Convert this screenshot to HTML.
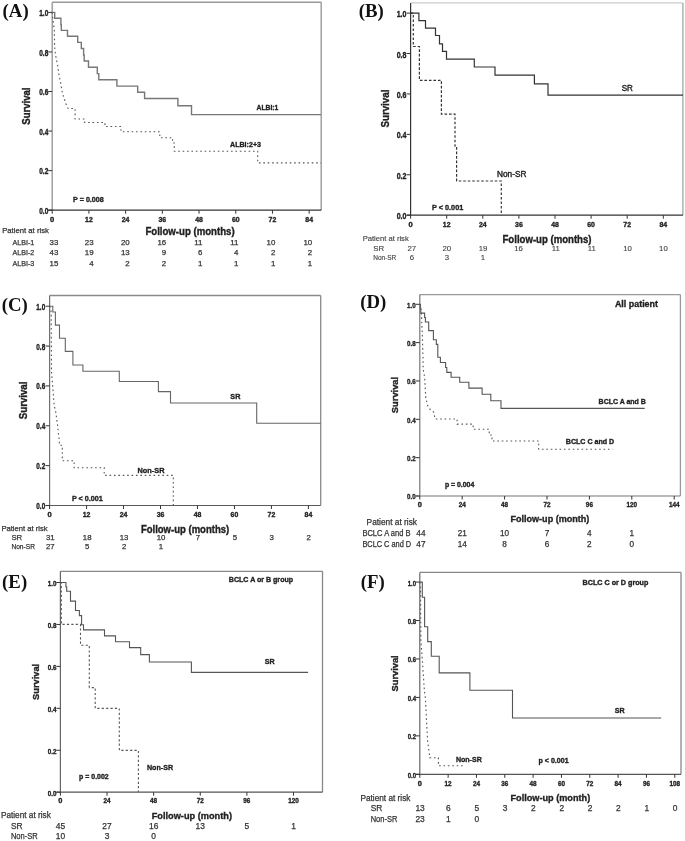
<!DOCTYPE html>
<html><head><meta charset="utf-8"><title>Kaplan-Meier survival curves</title>
<style>
html,body{margin:0;padding:0;background:#fff;}
body{width:685px;height:841px;overflow:hidden;font-family:"Liberation Sans",sans-serif;}
svg{display:block;will-change:transform;}
</style></head>
<body>
<svg width="685" height="841" viewBox="0 0 685 841">
<rect width="685" height="841" fill="#fff"/>
<g>
<line x1="52.2" y1="2.2" x2="321.2" y2="2.2" stroke="#999" stroke-width="1.4"/>
<line x1="321.2" y1="2.2" x2="321.2" y2="210.2" stroke="#999" stroke-width="1.4"/>
<line x1="52.2" y1="2.2" x2="52.2" y2="210.2" stroke="#999" stroke-width="1.4"/>
<line x1="48.2" y1="210.2" x2="321.2" y2="210.2" stroke="#333" stroke-width="1.3"/>
<line x1="48.2" y1="210.2" x2="52.2" y2="210.2" stroke="#333" stroke-width="1.0"/>
<text x="48.3" y="213.9" font-family="'Liberation Sans', sans-serif" font-size="8.4" font-weight="bold" text-anchor="end" fill="#222" textLength="9.1" lengthAdjust="spacingAndGlyphs" stroke="#222" stroke-width="0.35">0.0</text>
<line x1="48.2" y1="170.64" x2="52.2" y2="170.64" stroke="#333" stroke-width="1.0"/>
<text x="48.3" y="174.34" font-family="'Liberation Sans', sans-serif" font-size="8.4" font-weight="bold" text-anchor="end" fill="#222" textLength="9.1" lengthAdjust="spacingAndGlyphs" stroke="#222" stroke-width="0.35">0.2</text>
<line x1="48.2" y1="131.08" x2="52.2" y2="131.08" stroke="#333" stroke-width="1.0"/>
<text x="48.3" y="134.78" font-family="'Liberation Sans', sans-serif" font-size="8.4" font-weight="bold" text-anchor="end" fill="#222" textLength="9.1" lengthAdjust="spacingAndGlyphs" stroke="#222" stroke-width="0.35">0.4</text>
<line x1="48.2" y1="91.52" x2="52.2" y2="91.52" stroke="#333" stroke-width="1.0"/>
<text x="48.3" y="95.22" font-family="'Liberation Sans', sans-serif" font-size="8.4" font-weight="bold" text-anchor="end" fill="#222" textLength="9.1" lengthAdjust="spacingAndGlyphs" stroke="#222" stroke-width="0.35">0.6</text>
<line x1="48.2" y1="51.96" x2="52.2" y2="51.96" stroke="#333" stroke-width="1.0"/>
<text x="48.3" y="55.66" font-family="'Liberation Sans', sans-serif" font-size="8.4" font-weight="bold" text-anchor="end" fill="#222" textLength="9.1" lengthAdjust="spacingAndGlyphs" stroke="#222" stroke-width="0.35">0.8</text>
<line x1="48.2" y1="12.4" x2="52.2" y2="12.4" stroke="#333" stroke-width="1.0"/>
<text x="48.3" y="16.1" font-family="'Liberation Sans', sans-serif" font-size="8.4" font-weight="bold" text-anchor="end" fill="#222" textLength="9.1" lengthAdjust="spacingAndGlyphs" stroke="#222" stroke-width="0.35">1.0</text>
<line x1="52.2" y1="210.2" x2="52.2" y2="213.7" stroke="#333" stroke-width="1.0"/>
<text x="52.2" y="221.7" font-family="'Liberation Sans', sans-serif" font-size="7.6" font-weight="bold" text-anchor="middle" fill="#222" stroke="#222" stroke-width="0.35">0</text>
<line x1="88.91" y1="210.2" x2="88.91" y2="213.7" stroke="#333" stroke-width="1.0"/>
<text x="88.91" y="221.7" font-family="'Liberation Sans', sans-serif" font-size="7.6" font-weight="bold" text-anchor="middle" fill="#222" textLength="7.7" lengthAdjust="spacingAndGlyphs" stroke="#222" stroke-width="0.35">12</text>
<line x1="125.62" y1="210.2" x2="125.62" y2="213.7" stroke="#333" stroke-width="1.0"/>
<text x="125.62" y="221.7" font-family="'Liberation Sans', sans-serif" font-size="7.6" font-weight="bold" text-anchor="middle" fill="#222" textLength="7.7" lengthAdjust="spacingAndGlyphs" stroke="#222" stroke-width="0.35">24</text>
<line x1="162.33" y1="210.2" x2="162.33" y2="213.7" stroke="#333" stroke-width="1.0"/>
<text x="162.33" y="221.7" font-family="'Liberation Sans', sans-serif" font-size="7.6" font-weight="bold" text-anchor="middle" fill="#222" textLength="7.7" lengthAdjust="spacingAndGlyphs" stroke="#222" stroke-width="0.35">36</text>
<line x1="199.04" y1="210.2" x2="199.04" y2="213.7" stroke="#333" stroke-width="1.0"/>
<text x="199.04" y="221.7" font-family="'Liberation Sans', sans-serif" font-size="7.6" font-weight="bold" text-anchor="middle" fill="#222" textLength="7.7" lengthAdjust="spacingAndGlyphs" stroke="#222" stroke-width="0.35">48</text>
<line x1="235.75" y1="210.2" x2="235.75" y2="213.7" stroke="#333" stroke-width="1.0"/>
<text x="235.75" y="221.7" font-family="'Liberation Sans', sans-serif" font-size="7.6" font-weight="bold" text-anchor="middle" fill="#222" textLength="7.7" lengthAdjust="spacingAndGlyphs" stroke="#222" stroke-width="0.35">60</text>
<line x1="272.46" y1="210.2" x2="272.46" y2="213.7" stroke="#333" stroke-width="1.0"/>
<text x="272.46" y="221.7" font-family="'Liberation Sans', sans-serif" font-size="7.6" font-weight="bold" text-anchor="middle" fill="#222" textLength="7.7" lengthAdjust="spacingAndGlyphs" stroke="#222" stroke-width="0.35">72</text>
<line x1="309.17" y1="210.2" x2="309.17" y2="213.7" stroke="#333" stroke-width="1.0"/>
<text x="309.17" y="221.7" font-family="'Liberation Sans', sans-serif" font-size="7.6" font-weight="bold" text-anchor="middle" fill="#222" textLength="7.7" lengthAdjust="spacingAndGlyphs" stroke="#222" stroke-width="0.35">84</text>
<path d="M52.2 12.4 H54.7 V18.2 H60.9 V24.6 H61.3 V30.4 H67.5 V36.3 H77.7 V42.4 H81.3 V48.5 H83.6 V55 H84.2 V61 H88.5 V67.2 H97.3 V73.6 H98.8 V79.8 H116.9 V86.1 H137.7 V92.3 H144.6 V98.5 H177.9 V105.8 H191.5 V114.6 H321" fill="none" stroke="#777" stroke-width="1.4" stroke-linejoin="miter"/>
<path d="M52.2 12.4 L52.6 16.6 L53.5 24 L54.3 29.4 L54.6 46.6 L55.5 55 L56.5 60 L57.6 65 L59 75 L60.5 82 L62.3 92.7 L64 98 L66 104 L68.1 108.5 H75.1 V119 H84.7 V122.5 H104.9 V126.5 H121 V131.8 H159.8 V137.7 H172.6 V143 H174.3 V151.2 H257.7 V162.9 H321" fill="none" stroke="#555" stroke-width="1.1" stroke-dasharray="1.6 2.8" stroke-linejoin="miter"/>
<text x="2.6" y="17.1" font-family="'Liberation Serif', serif" font-size="18.8" font-weight="bold" text-anchor="start" fill="#111">(A)</text>
<text x="29.9" y="106.1" font-family="'Liberation Sans', sans-serif" font-size="10.2" font-weight="bold" text-anchor="middle" fill="#222" textLength="37.3" lengthAdjust="spacingAndGlyphs" transform="rotate(-90 29.9 106.1)" stroke="#222" stroke-width="0.35">Survival</text>
<text x="145.4" y="234.8" font-family="'Liberation Sans', sans-serif" font-size="10.2" font-weight="bold" text-anchor="start" fill="#222" textLength="89.2" lengthAdjust="spacingAndGlyphs" stroke="#222" stroke-width="0.35">Follow-up (months)</text>
<text x="73.1" y="202.3" font-family="'Liberation Sans', sans-serif" font-size="7.7" font-weight="bold" text-anchor="start" fill="#222" textLength="30.7" lengthAdjust="spacingAndGlyphs" stroke="#222" stroke-width="0.35">P = 0.008</text>
<text x="256.5" y="110" font-family="'Liberation Sans', sans-serif" font-size="8.0" font-weight="bold" text-anchor="start" fill="#222" textLength="21.9" lengthAdjust="spacingAndGlyphs" stroke="#222" stroke-width="0.35">ALBI:1</text>
<text x="230" y="146.5" font-family="'Liberation Sans', sans-serif" font-size="8.0" font-weight="bold" text-anchor="start" fill="#222" textLength="31" lengthAdjust="spacingAndGlyphs" stroke="#222" stroke-width="0.35">ALBI:2+3</text>
<text x="2.2" y="233.4" font-family="'Liberation Sans', sans-serif" font-size="7.9" text-anchor="start" fill="#333" textLength="46.7" lengthAdjust="spacingAndGlyphs" stroke="#333" stroke-width="0.25">Patient at risk</text>
<text x="12.4" y="244.5" font-family="'Liberation Sans', sans-serif" font-size="7.9" text-anchor="start" fill="#333" textLength="21.9" lengthAdjust="spacingAndGlyphs" stroke="#333" stroke-width="0.25">ALBI-1</text>
<text x="12.4" y="255.0" font-family="'Liberation Sans', sans-serif" font-size="7.9" text-anchor="start" fill="#333" textLength="21.9" lengthAdjust="spacingAndGlyphs" stroke="#333" stroke-width="0.25">ALBI-2</text>
<text x="12.4" y="266.4" font-family="'Liberation Sans', sans-serif" font-size="7.9" text-anchor="start" fill="#333" textLength="21.9" lengthAdjust="spacingAndGlyphs" stroke="#333" stroke-width="0.25">ALBI-3</text>
<text x="58.4" y="244.5" font-family="'Liberation Sans', sans-serif" font-size="7.9" text-anchor="end" fill="#333" stroke="#333" stroke-width="0.25">33</text>
<text x="93.6" y="244.5" font-family="'Liberation Sans', sans-serif" font-size="7.9" text-anchor="end" fill="#333" stroke="#333" stroke-width="0.25">23</text>
<text x="129.7" y="244.5" font-family="'Liberation Sans', sans-serif" font-size="7.9" text-anchor="end" fill="#333" stroke="#333" stroke-width="0.25">20</text>
<text x="166.2" y="244.5" font-family="'Liberation Sans', sans-serif" font-size="7.9" text-anchor="end" fill="#333" stroke="#333" stroke-width="0.25">16</text>
<text x="202.4" y="244.5" font-family="'Liberation Sans', sans-serif" font-size="7.9" text-anchor="end" fill="#333" stroke="#333" stroke-width="0.25">11</text>
<text x="238.5" y="244.5" font-family="'Liberation Sans', sans-serif" font-size="7.9" text-anchor="end" fill="#333" stroke="#333" stroke-width="0.25">11</text>
<text x="275.3" y="244.5" font-family="'Liberation Sans', sans-serif" font-size="7.9" text-anchor="end" fill="#333" stroke="#333" stroke-width="0.25">10</text>
<text x="312.2" y="244.5" font-family="'Liberation Sans', sans-serif" font-size="7.9" text-anchor="end" fill="#333" stroke="#333" stroke-width="0.25">10</text>
<text x="58.4" y="255.0" font-family="'Liberation Sans', sans-serif" font-size="7.9" text-anchor="end" fill="#333" stroke="#333" stroke-width="0.25">43</text>
<text x="93.6" y="255.0" font-family="'Liberation Sans', sans-serif" font-size="7.9" text-anchor="end" fill="#333" stroke="#333" stroke-width="0.25">19</text>
<text x="129.7" y="255.0" font-family="'Liberation Sans', sans-serif" font-size="7.9" text-anchor="end" fill="#333" stroke="#333" stroke-width="0.25">13</text>
<text x="166.2" y="255.0" font-family="'Liberation Sans', sans-serif" font-size="7.9" text-anchor="end" fill="#333" stroke="#333" stroke-width="0.25">9</text>
<text x="202.4" y="255.0" font-family="'Liberation Sans', sans-serif" font-size="7.9" text-anchor="end" fill="#333" stroke="#333" stroke-width="0.25">6</text>
<text x="238.5" y="255.0" font-family="'Liberation Sans', sans-serif" font-size="7.9" text-anchor="end" fill="#333" stroke="#333" stroke-width="0.25">4</text>
<text x="275.3" y="255.0" font-family="'Liberation Sans', sans-serif" font-size="7.9" text-anchor="end" fill="#333" stroke="#333" stroke-width="0.25">2</text>
<text x="312.2" y="255.0" font-family="'Liberation Sans', sans-serif" font-size="7.9" text-anchor="end" fill="#333" stroke="#333" stroke-width="0.25">2</text>
<text x="58.4" y="266.4" font-family="'Liberation Sans', sans-serif" font-size="7.9" text-anchor="end" fill="#333" stroke="#333" stroke-width="0.25">15</text>
<text x="93.6" y="266.4" font-family="'Liberation Sans', sans-serif" font-size="7.9" text-anchor="end" fill="#333" stroke="#333" stroke-width="0.25">4</text>
<text x="129.7" y="266.4" font-family="'Liberation Sans', sans-serif" font-size="7.9" text-anchor="end" fill="#333" stroke="#333" stroke-width="0.25">2</text>
<text x="166.2" y="266.4" font-family="'Liberation Sans', sans-serif" font-size="7.9" text-anchor="end" fill="#333" stroke="#333" stroke-width="0.25">2</text>
<text x="202.4" y="266.4" font-family="'Liberation Sans', sans-serif" font-size="7.9" text-anchor="end" fill="#333" stroke="#333" stroke-width="0.25">1</text>
<text x="238.5" y="266.4" font-family="'Liberation Sans', sans-serif" font-size="7.9" text-anchor="end" fill="#333" stroke="#333" stroke-width="0.25">1</text>
<text x="275.3" y="266.4" font-family="'Liberation Sans', sans-serif" font-size="7.9" text-anchor="end" fill="#333" stroke="#333" stroke-width="0.25">1</text>
<text x="312.2" y="266.4" font-family="'Liberation Sans', sans-serif" font-size="7.9" text-anchor="end" fill="#333" stroke="#333" stroke-width="0.25">1</text>
</g>
<g>
<line x1="410.6" y1="2.9" x2="682.9" y2="2.9" stroke="#cbcbcb" stroke-width="1.3"/>
<line x1="682.9" y1="2.9" x2="682.9" y2="215.2" stroke="#a5a5a5" stroke-width="1.3"/>
<line x1="410.6" y1="2.9" x2="410.6" y2="215.2" stroke="#333" stroke-width="1.2"/>
<line x1="406.6" y1="215.2" x2="682.9" y2="215.2" stroke="#333" stroke-width="1.2"/>
<line x1="406.6" y1="215.2" x2="410.6" y2="215.2" stroke="#333" stroke-width="1.0"/>
<text x="406.5" y="219.2" font-family="'Liberation Sans', sans-serif" font-size="8.7" font-weight="bold" text-anchor="end" fill="#222" textLength="9.8" lengthAdjust="spacingAndGlyphs" stroke="#222" stroke-width="0.35">0.0</text>
<line x1="406.6" y1="174.78" x2="410.6" y2="174.78" stroke="#333" stroke-width="1.0"/>
<text x="406.5" y="178.78" font-family="'Liberation Sans', sans-serif" font-size="8.7" font-weight="bold" text-anchor="end" fill="#222" textLength="9.8" lengthAdjust="spacingAndGlyphs" stroke="#222" stroke-width="0.35">0.2</text>
<line x1="406.6" y1="134.36" x2="410.6" y2="134.36" stroke="#333" stroke-width="1.0"/>
<text x="406.5" y="138.36" font-family="'Liberation Sans', sans-serif" font-size="8.7" font-weight="bold" text-anchor="end" fill="#222" textLength="9.8" lengthAdjust="spacingAndGlyphs" stroke="#222" stroke-width="0.35">0.4</text>
<line x1="406.6" y1="93.94" x2="410.6" y2="93.94" stroke="#333" stroke-width="1.0"/>
<text x="406.5" y="97.94" font-family="'Liberation Sans', sans-serif" font-size="8.7" font-weight="bold" text-anchor="end" fill="#222" textLength="9.8" lengthAdjust="spacingAndGlyphs" stroke="#222" stroke-width="0.35">0.6</text>
<line x1="406.6" y1="53.52" x2="410.6" y2="53.52" stroke="#333" stroke-width="1.0"/>
<text x="406.5" y="57.52" font-family="'Liberation Sans', sans-serif" font-size="8.7" font-weight="bold" text-anchor="end" fill="#222" textLength="9.8" lengthAdjust="spacingAndGlyphs" stroke="#222" stroke-width="0.35">0.8</text>
<line x1="406.6" y1="13.1" x2="410.6" y2="13.1" stroke="#333" stroke-width="1.0"/>
<text x="406.5" y="17.1" font-family="'Liberation Sans', sans-serif" font-size="8.7" font-weight="bold" text-anchor="end" fill="#222" textLength="9.8" lengthAdjust="spacingAndGlyphs" stroke="#222" stroke-width="0.35">1.0</text>
<line x1="410.6" y1="215.2" x2="410.6" y2="218.7" stroke="#333" stroke-width="1.0"/>
<text x="410.6" y="226.8" font-family="'Liberation Sans', sans-serif" font-size="7.6" font-weight="bold" text-anchor="middle" fill="#222" stroke="#222" stroke-width="0.35">0</text>
<line x1="446.7" y1="215.2" x2="446.7" y2="218.7" stroke="#333" stroke-width="1.0"/>
<text x="446.7" y="226.8" font-family="'Liberation Sans', sans-serif" font-size="7.6" font-weight="bold" text-anchor="middle" fill="#222" textLength="7.7" lengthAdjust="spacingAndGlyphs" stroke="#222" stroke-width="0.35">12</text>
<line x1="482.8" y1="215.2" x2="482.8" y2="218.7" stroke="#333" stroke-width="1.0"/>
<text x="482.8" y="226.8" font-family="'Liberation Sans', sans-serif" font-size="7.6" font-weight="bold" text-anchor="middle" fill="#222" textLength="7.7" lengthAdjust="spacingAndGlyphs" stroke="#222" stroke-width="0.35">24</text>
<line x1="518.9" y1="215.2" x2="518.9" y2="218.7" stroke="#333" stroke-width="1.0"/>
<text x="518.9" y="226.8" font-family="'Liberation Sans', sans-serif" font-size="7.6" font-weight="bold" text-anchor="middle" fill="#222" textLength="7.7" lengthAdjust="spacingAndGlyphs" stroke="#222" stroke-width="0.35">36</text>
<line x1="555.0" y1="215.2" x2="555.0" y2="218.7" stroke="#333" stroke-width="1.0"/>
<text x="555.0" y="226.8" font-family="'Liberation Sans', sans-serif" font-size="7.6" font-weight="bold" text-anchor="middle" fill="#222" textLength="7.7" lengthAdjust="spacingAndGlyphs" stroke="#222" stroke-width="0.35">48</text>
<line x1="591.1" y1="215.2" x2="591.1" y2="218.7" stroke="#333" stroke-width="1.0"/>
<text x="591.1" y="226.8" font-family="'Liberation Sans', sans-serif" font-size="7.6" font-weight="bold" text-anchor="middle" fill="#222" textLength="7.7" lengthAdjust="spacingAndGlyphs" stroke="#222" stroke-width="0.35">60</text>
<line x1="627.2" y1="215.2" x2="627.2" y2="218.7" stroke="#333" stroke-width="1.0"/>
<text x="627.2" y="226.8" font-family="'Liberation Sans', sans-serif" font-size="7.6" font-weight="bold" text-anchor="middle" fill="#222" textLength="7.7" lengthAdjust="spacingAndGlyphs" stroke="#222" stroke-width="0.35">72</text>
<line x1="663.3" y1="215.2" x2="663.3" y2="218.7" stroke="#333" stroke-width="1.0"/>
<text x="663.3" y="226.8" font-family="'Liberation Sans', sans-serif" font-size="7.6" font-weight="bold" text-anchor="middle" fill="#222" textLength="7.7" lengthAdjust="spacingAndGlyphs" stroke="#222" stroke-width="0.35">84</text>
<path d="M410.6 13.1 H418.9 V20.6 H425.5 V28.1 H435.5 V35.5 H439.5 V43.9 H442.5 V51.4 H446.5 V59.2 H474.3 V67 H495 V75.2 H534.4 V83.8 H548 V95.1 H683" fill="none" stroke="#333" stroke-width="1.2" stroke-linejoin="miter"/>
<path d="M410.6 13.1 H413.3 V46.5 H419.4 V80.3 H441.4 V114.2 H455 V147.6 H456.6 V181 H501.3 V215.2" fill="none" stroke="#333" stroke-width="1.2" stroke-dasharray="2.6 1.9" stroke-linejoin="miter"/>
<text x="358.8" y="16.9" font-family="'Liberation Serif', serif" font-size="18.8" font-weight="bold" text-anchor="start" fill="#111">(B)</text>
<text x="388.7" y="108.6" font-family="'Liberation Sans', sans-serif" font-size="10.2" font-weight="bold" text-anchor="middle" fill="#222" textLength="37.9" lengthAdjust="spacingAndGlyphs" transform="rotate(-90 388.7 108.6)" stroke="#222" stroke-width="0.35">Survival</text>
<text x="502.5" y="242.7" font-family="'Liberation Sans', sans-serif" font-size="10.2" font-weight="bold" text-anchor="start" fill="#222" textLength="89" lengthAdjust="spacingAndGlyphs" stroke="#222" stroke-width="0.35">Follow-up (months)</text>
<text x="432" y="210.3" font-family="'Liberation Sans', sans-serif" font-size="7.8" font-weight="bold" text-anchor="start" fill="#222" textLength="31.3" lengthAdjust="spacingAndGlyphs" stroke="#222" stroke-width="0.35">P &lt; 0.001</text>
<text x="621.7" y="91.3" font-family="'Liberation Sans', sans-serif" font-size="9.0" text-anchor="start" fill="#222" textLength="11.2" lengthAdjust="spacingAndGlyphs" stroke="#222" stroke-width="0.42">SR</text>
<text x="497" y="176.8" font-family="'Liberation Sans', sans-serif" font-size="9.0" text-anchor="start" fill="#222" textLength="29.5" lengthAdjust="spacingAndGlyphs" stroke="#222" stroke-width="0.42">Non-SR</text>
<text x="362.7" y="241.3" font-family="'Liberation Sans', sans-serif" font-size="7.8" text-anchor="start" fill="#444" textLength="46" lengthAdjust="spacingAndGlyphs" stroke="#444" stroke-width="0.15">Patient at risk</text>
<text x="373.2" y="251.0" font-family="'Liberation Sans', sans-serif" font-size="7.8" text-anchor="start" fill="#444" stroke="#444" stroke-width="0.15">SR</text>
<text x="373.2" y="259.7" font-family="'Liberation Sans', sans-serif" font-size="7.8" text-anchor="start" fill="#444" textLength="23.1" lengthAdjust="spacingAndGlyphs" stroke="#444" stroke-width="0.15">Non-SR</text>
<text x="411.8" y="251.0" font-family="'Liberation Sans', sans-serif" font-size="7.8" text-anchor="middle" fill="#444" stroke="#444" stroke-width="0.12">27</text>
<text x="446.8" y="251.0" font-family="'Liberation Sans', sans-serif" font-size="7.8" text-anchor="middle" fill="#444" stroke="#444" stroke-width="0.12">20</text>
<text x="483" y="251.0" font-family="'Liberation Sans', sans-serif" font-size="7.8" text-anchor="middle" fill="#444" stroke="#444" stroke-width="0.12">19</text>
<text x="518.6" y="251.0" font-family="'Liberation Sans', sans-serif" font-size="7.8" text-anchor="middle" fill="#444" stroke="#444" stroke-width="0.12">16</text>
<text x="555.7" y="251.0" font-family="'Liberation Sans', sans-serif" font-size="7.8" text-anchor="middle" fill="#444" stroke="#444" stroke-width="0.12">11</text>
<text x="591.8" y="251.0" font-family="'Liberation Sans', sans-serif" font-size="7.8" text-anchor="middle" fill="#444" stroke="#444" stroke-width="0.12">11</text>
<text x="627.5" y="251.0" font-family="'Liberation Sans', sans-serif" font-size="7.8" text-anchor="middle" fill="#444" stroke="#444" stroke-width="0.12">10</text>
<text x="663.4" y="251.0" font-family="'Liberation Sans', sans-serif" font-size="7.8" text-anchor="middle" fill="#444" stroke="#444" stroke-width="0.12">10</text>
<text x="411.8" y="259.7" font-family="'Liberation Sans', sans-serif" font-size="7.8" text-anchor="middle" fill="#444" stroke="#444" stroke-width="0.12">6</text>
<text x="446.8" y="259.7" font-family="'Liberation Sans', sans-serif" font-size="7.8" text-anchor="middle" fill="#444" stroke="#444" stroke-width="0.12">3</text>
<text x="483" y="259.7" font-family="'Liberation Sans', sans-serif" font-size="7.8" text-anchor="middle" fill="#444" stroke="#444" stroke-width="0.12">1</text>
</g>
<g>
<line x1="49.6" y1="295.5" x2="320.7" y2="295.5" stroke="#8a8a8a" stroke-width="1.3"/>
<line x1="320.7" y1="295.5" x2="320.7" y2="505.5" stroke="#8a8a8a" stroke-width="1.3"/>
<line x1="49.6" y1="295.5" x2="49.6" y2="505.5" stroke="#707070" stroke-width="1.2"/>
<line x1="45.6" y1="505.5" x2="320.7" y2="505.5" stroke="#5a5a5a" stroke-width="1.2"/>
<line x1="45.6" y1="505.5" x2="49.6" y2="505.5" stroke="#333" stroke-width="1.0"/>
<text x="45.2" y="509.0" font-family="'Liberation Sans', sans-serif" font-size="8.4" font-weight="bold" text-anchor="end" fill="#222" textLength="8.9" lengthAdjust="spacingAndGlyphs" stroke="#222" stroke-width="0.35">0.0</text>
<line x1="45.6" y1="465.64" x2="49.6" y2="465.64" stroke="#333" stroke-width="1.0"/>
<text x="45.2" y="469.14" font-family="'Liberation Sans', sans-serif" font-size="8.4" font-weight="bold" text-anchor="end" fill="#222" textLength="8.9" lengthAdjust="spacingAndGlyphs" stroke="#222" stroke-width="0.35">0.2</text>
<line x1="45.6" y1="425.78" x2="49.6" y2="425.78" stroke="#333" stroke-width="1.0"/>
<text x="45.2" y="429.28" font-family="'Liberation Sans', sans-serif" font-size="8.4" font-weight="bold" text-anchor="end" fill="#222" textLength="8.9" lengthAdjust="spacingAndGlyphs" stroke="#222" stroke-width="0.35">0.4</text>
<line x1="45.6" y1="385.92" x2="49.6" y2="385.92" stroke="#333" stroke-width="1.0"/>
<text x="45.2" y="389.42" font-family="'Liberation Sans', sans-serif" font-size="8.4" font-weight="bold" text-anchor="end" fill="#222" textLength="8.9" lengthAdjust="spacingAndGlyphs" stroke="#222" stroke-width="0.35">0.6</text>
<line x1="45.6" y1="346.06" x2="49.6" y2="346.06" stroke="#333" stroke-width="1.0"/>
<text x="45.2" y="349.56" font-family="'Liberation Sans', sans-serif" font-size="8.4" font-weight="bold" text-anchor="end" fill="#222" textLength="8.9" lengthAdjust="spacingAndGlyphs" stroke="#222" stroke-width="0.35">0.8</text>
<line x1="45.6" y1="306.2" x2="49.6" y2="306.2" stroke="#333" stroke-width="1.0"/>
<text x="45.2" y="309.7" font-family="'Liberation Sans', sans-serif" font-size="8.4" font-weight="bold" text-anchor="end" fill="#222" textLength="8.9" lengthAdjust="spacingAndGlyphs" stroke="#222" stroke-width="0.35">1.0</text>
<line x1="49.6" y1="505.5" x2="49.6" y2="509.0" stroke="#333" stroke-width="1.0"/>
<text x="49.6" y="516.8" font-family="'Liberation Sans', sans-serif" font-size="7.6" font-weight="bold" text-anchor="middle" fill="#222" stroke="#222" stroke-width="0.35">0</text>
<line x1="86.57" y1="505.5" x2="86.57" y2="509.0" stroke="#333" stroke-width="1.0"/>
<text x="86.57" y="516.8" font-family="'Liberation Sans', sans-serif" font-size="7.6" font-weight="bold" text-anchor="middle" fill="#222" textLength="7.7" lengthAdjust="spacingAndGlyphs" stroke="#222" stroke-width="0.35">12</text>
<line x1="123.54" y1="505.5" x2="123.54" y2="509.0" stroke="#333" stroke-width="1.0"/>
<text x="123.54" y="516.8" font-family="'Liberation Sans', sans-serif" font-size="7.6" font-weight="bold" text-anchor="middle" fill="#222" textLength="7.7" lengthAdjust="spacingAndGlyphs" stroke="#222" stroke-width="0.35">24</text>
<line x1="160.51" y1="505.5" x2="160.51" y2="509.0" stroke="#333" stroke-width="1.0"/>
<text x="160.51" y="516.8" font-family="'Liberation Sans', sans-serif" font-size="7.6" font-weight="bold" text-anchor="middle" fill="#222" textLength="7.7" lengthAdjust="spacingAndGlyphs" stroke="#222" stroke-width="0.35">36</text>
<line x1="197.48" y1="505.5" x2="197.48" y2="509.0" stroke="#333" stroke-width="1.0"/>
<text x="197.48" y="516.8" font-family="'Liberation Sans', sans-serif" font-size="7.6" font-weight="bold" text-anchor="middle" fill="#222" textLength="7.7" lengthAdjust="spacingAndGlyphs" stroke="#222" stroke-width="0.35">48</text>
<line x1="234.45" y1="505.5" x2="234.45" y2="509.0" stroke="#333" stroke-width="1.0"/>
<text x="234.45" y="516.8" font-family="'Liberation Sans', sans-serif" font-size="7.6" font-weight="bold" text-anchor="middle" fill="#222" textLength="7.7" lengthAdjust="spacingAndGlyphs" stroke="#222" stroke-width="0.35">60</text>
<line x1="271.42" y1="505.5" x2="271.42" y2="509.0" stroke="#333" stroke-width="1.0"/>
<text x="271.42" y="516.8" font-family="'Liberation Sans', sans-serif" font-size="7.6" font-weight="bold" text-anchor="middle" fill="#222" textLength="7.7" lengthAdjust="spacingAndGlyphs" stroke="#222" stroke-width="0.35">72</text>
<line x1="308.39" y1="505.5" x2="308.39" y2="509.0" stroke="#333" stroke-width="1.0"/>
<text x="308.39" y="516.8" font-family="'Liberation Sans', sans-serif" font-size="7.6" font-weight="bold" text-anchor="middle" fill="#222" textLength="7.7" lengthAdjust="spacingAndGlyphs" stroke="#222" stroke-width="0.35">84</text>
<path d="M49.6 306.2 H52.8 V312 H55.4 V325.1 H59.5 V338.3 H65.3 V351.4 H72.9 V365 H82.9 V371.3 H119.3 V381.5 H158.4 V391.6 H170.5 V403.0 H256.7 V423.2 H320.7" fill="none" stroke="#666" stroke-width="1.1" stroke-linejoin="miter"/>
<path d="M49.6 306.2 L51.2 312 L51.5 372 L53 390 L54.2 406.2 L55.5 410 L57.5 425 L59.2 440 L59.5 445.3 H62.3 V460.7 H74.1 V467.8 H104.2 V475.4 H173.3 V505.5" fill="none" stroke="#555" stroke-width="1.1" stroke-dasharray="1.6 2.8" stroke-linejoin="miter"/>
<text x="1.8" y="310.5" font-family="'Liberation Serif', serif" font-size="18.8" font-weight="bold" text-anchor="start" fill="#111">(C)</text>
<text x="27.1" y="400.4" font-family="'Liberation Sans', sans-serif" font-size="10.2" font-weight="bold" text-anchor="middle" fill="#222" textLength="37.5" lengthAdjust="spacingAndGlyphs" transform="rotate(-90 27.1 400.4)" stroke="#222" stroke-width="0.35">Survival</text>
<text x="140.9" y="532.8" font-family="'Liberation Sans', sans-serif" font-size="10.2" font-weight="bold" text-anchor="start" fill="#222" textLength="88.3" lengthAdjust="spacingAndGlyphs" stroke="#222" stroke-width="0.35">Follow-up (months)</text>
<text x="71.9" y="500.6" font-family="'Liberation Sans', sans-serif" font-size="7.8" font-weight="bold" text-anchor="start" fill="#222" textLength="30.9" lengthAdjust="spacingAndGlyphs" stroke="#222" stroke-width="0.35">P &lt; 0.001</text>
<text x="230.3" y="399.3" font-family="'Liberation Sans', sans-serif" font-size="8.0" font-weight="bold" text-anchor="start" fill="#222" textLength="10.1" lengthAdjust="spacingAndGlyphs" stroke="#222" stroke-width="0.35">SR</text>
<text x="137.5" y="472.5" font-family="'Liberation Sans', sans-serif" font-size="8.0" font-weight="bold" text-anchor="start" fill="#222" textLength="27" lengthAdjust="spacingAndGlyphs" stroke="#222" stroke-width="0.35">Non-SR</text>
<text x="1.4" y="530.8" font-family="'Liberation Sans', sans-serif" font-size="7.8" text-anchor="start" fill="#333" textLength="46.3" lengthAdjust="spacingAndGlyphs" stroke="#333" stroke-width="0.25">Patient at risk</text>
<text x="11.4" y="540.4" font-family="'Liberation Sans', sans-serif" font-size="7.8" text-anchor="start" fill="#333" stroke="#333" stroke-width="0.25">SR</text>
<text x="11.4" y="549.2" font-family="'Liberation Sans', sans-serif" font-size="7.8" text-anchor="start" fill="#333" textLength="23.6" lengthAdjust="spacingAndGlyphs" stroke="#333" stroke-width="0.25">Non-SR</text>
<text x="50.3" y="540.4" font-family="'Liberation Sans', sans-serif" font-size="7.8" text-anchor="middle" fill="#333" stroke="#333" stroke-width="0.25">31</text>
<text x="87.2" y="540.4" font-family="'Liberation Sans', sans-serif" font-size="7.8" text-anchor="middle" fill="#333" stroke="#333" stroke-width="0.25">18</text>
<text x="124.1" y="540.4" font-family="'Liberation Sans', sans-serif" font-size="7.8" text-anchor="middle" fill="#333" stroke="#333" stroke-width="0.25">13</text>
<text x="161.0" y="540.4" font-family="'Liberation Sans', sans-serif" font-size="7.8" text-anchor="middle" fill="#333" stroke="#333" stroke-width="0.25">10</text>
<text x="197.9" y="540.4" font-family="'Liberation Sans', sans-serif" font-size="7.8" text-anchor="middle" fill="#333" stroke="#333" stroke-width="0.25">7</text>
<text x="234.8" y="540.4" font-family="'Liberation Sans', sans-serif" font-size="7.8" text-anchor="middle" fill="#333" stroke="#333" stroke-width="0.25">5</text>
<text x="271.7" y="540.4" font-family="'Liberation Sans', sans-serif" font-size="7.8" text-anchor="middle" fill="#333" stroke="#333" stroke-width="0.25">3</text>
<text x="308.6" y="540.4" font-family="'Liberation Sans', sans-serif" font-size="7.8" text-anchor="middle" fill="#333" stroke="#333" stroke-width="0.25">2</text>
<text x="50.3" y="549.2" font-family="'Liberation Sans', sans-serif" font-size="7.8" text-anchor="middle" fill="#333" stroke="#333" stroke-width="0.25">27</text>
<text x="87.2" y="549.2" font-family="'Liberation Sans', sans-serif" font-size="7.8" text-anchor="middle" fill="#333" stroke="#333" stroke-width="0.25">5</text>
<text x="124.1" y="549.2" font-family="'Liberation Sans', sans-serif" font-size="7.8" text-anchor="middle" fill="#333" stroke="#333" stroke-width="0.25">2</text>
<text x="161.0" y="549.2" font-family="'Liberation Sans', sans-serif" font-size="7.8" text-anchor="middle" fill="#333" stroke="#333" stroke-width="0.25">1</text>
</g>
<g>
<line x1="419.8" y1="294.6" x2="680.4" y2="294.6" stroke="#999" stroke-width="1.3"/>
<line x1="680.4" y1="294.6" x2="680.4" y2="496.0" stroke="#999" stroke-width="1.3"/>
<line x1="419.8" y1="294.6" x2="419.8" y2="496.0" stroke="#777" stroke-width="1.2"/>
<line x1="415.8" y1="496.0" x2="680.4" y2="496.0" stroke="#777" stroke-width="1.2"/>
<line x1="415.8" y1="496.0" x2="419.8" y2="496.0" stroke="#333" stroke-width="1.0"/>
<text x="415.6" y="499.4" font-family="'Liberation Sans', sans-serif" font-size="7.4" font-weight="bold" text-anchor="end" fill="#222" textLength="8.6" lengthAdjust="spacingAndGlyphs" stroke="#222" stroke-width="0.35">0.0</text>
<line x1="415.8" y1="457.66" x2="419.8" y2="457.66" stroke="#333" stroke-width="1.0"/>
<text x="415.6" y="461.06" font-family="'Liberation Sans', sans-serif" font-size="7.4" font-weight="bold" text-anchor="end" fill="#222" textLength="8.6" lengthAdjust="spacingAndGlyphs" stroke="#222" stroke-width="0.35">0.2</text>
<line x1="415.8" y1="419.32" x2="419.8" y2="419.32" stroke="#333" stroke-width="1.0"/>
<text x="415.6" y="422.72" font-family="'Liberation Sans', sans-serif" font-size="7.4" font-weight="bold" text-anchor="end" fill="#222" textLength="8.6" lengthAdjust="spacingAndGlyphs" stroke="#222" stroke-width="0.35">0.4</text>
<line x1="415.8" y1="380.98" x2="419.8" y2="380.98" stroke="#333" stroke-width="1.0"/>
<text x="415.6" y="384.38" font-family="'Liberation Sans', sans-serif" font-size="7.4" font-weight="bold" text-anchor="end" fill="#222" textLength="8.6" lengthAdjust="spacingAndGlyphs" stroke="#222" stroke-width="0.35">0.6</text>
<line x1="415.8" y1="342.64" x2="419.8" y2="342.64" stroke="#333" stroke-width="1.0"/>
<text x="415.6" y="346.04" font-family="'Liberation Sans', sans-serif" font-size="7.4" font-weight="bold" text-anchor="end" fill="#222" textLength="8.6" lengthAdjust="spacingAndGlyphs" stroke="#222" stroke-width="0.35">0.8</text>
<line x1="415.8" y1="304.3" x2="419.8" y2="304.3" stroke="#333" stroke-width="1.0"/>
<text x="415.6" y="307.7" font-family="'Liberation Sans', sans-serif" font-size="7.4" font-weight="bold" text-anchor="end" fill="#222" textLength="8.6" lengthAdjust="spacingAndGlyphs" stroke="#222" stroke-width="0.35">1.0</text>
<line x1="419.8" y1="496.0" x2="419.8" y2="499.5" stroke="#333" stroke-width="1.0"/>
<text x="419.8" y="506.8" font-family="'Liberation Sans', sans-serif" font-size="7.4" font-weight="bold" text-anchor="middle" fill="#222" stroke="#222" stroke-width="0.35">0</text>
<line x1="462.2" y1="496.0" x2="462.2" y2="499.5" stroke="#333" stroke-width="1.0"/>
<text x="462.2" y="506.8" font-family="'Liberation Sans', sans-serif" font-size="7.4" font-weight="bold" text-anchor="middle" fill="#222" textLength="7.1" lengthAdjust="spacingAndGlyphs" stroke="#222" stroke-width="0.35">24</text>
<line x1="504.6" y1="496.0" x2="504.6" y2="499.5" stroke="#333" stroke-width="1.0"/>
<text x="504.6" y="506.8" font-family="'Liberation Sans', sans-serif" font-size="7.4" font-weight="bold" text-anchor="middle" fill="#222" textLength="7.1" lengthAdjust="spacingAndGlyphs" stroke="#222" stroke-width="0.35">48</text>
<line x1="547.0" y1="496.0" x2="547.0" y2="499.5" stroke="#333" stroke-width="1.0"/>
<text x="547.0" y="506.8" font-family="'Liberation Sans', sans-serif" font-size="7.4" font-weight="bold" text-anchor="middle" fill="#222" textLength="7.1" lengthAdjust="spacingAndGlyphs" stroke="#222" stroke-width="0.35">72</text>
<line x1="589.4" y1="496.0" x2="589.4" y2="499.5" stroke="#333" stroke-width="1.0"/>
<text x="589.4" y="506.8" font-family="'Liberation Sans', sans-serif" font-size="7.4" font-weight="bold" text-anchor="middle" fill="#222" textLength="7.1" lengthAdjust="spacingAndGlyphs" stroke="#222" stroke-width="0.35">96</text>
<line x1="631.8" y1="496.0" x2="631.8" y2="499.5" stroke="#333" stroke-width="1.0"/>
<text x="631.8" y="506.8" font-family="'Liberation Sans', sans-serif" font-size="7.4" font-weight="bold" text-anchor="middle" fill="#222" textLength="10.65" lengthAdjust="spacingAndGlyphs" stroke="#222" stroke-width="0.35">120</text>
<line x1="674.2" y1="496.0" x2="674.2" y2="499.5" stroke="#333" stroke-width="1.0"/>
<text x="674.2" y="506.8" font-family="'Liberation Sans', sans-serif" font-size="7.4" font-weight="bold" text-anchor="middle" fill="#222" textLength="10.65" lengthAdjust="spacingAndGlyphs" stroke="#222" stroke-width="0.35">144</text>
<path d="M419.8 304.3 H420.3 V308 H420.8 V313.1 H424.6 V317.5 H425.4 V322 H428.7 V330.6 H433.4 V339.7 H436.3 V344.4 H437.8 V357.2 H440.4 V362.5 H445.6 V367.5 H446.8 V372.4 H451.1 V377.3 H459.7 V382.3 H468.9 V388.1 H482.1 V394.2 H490.8 V400.8 H501 V408.4 H644.7" fill="none" stroke="#555" stroke-width="1.1" stroke-linejoin="miter"/>
<path d="M419.8 304.3 L420.5 306 L421.5 315 L422.5 340 L423.3 370 L424.6 377 L425.8 398 L428 406.8 L431 410.5 L433.6 412 L434.5 416 L435 419 H457.1 V424.1 H473.2 V429.2 H489.2 V435 H492 V441 H538.7 V449.2 H612.7" fill="none" stroke="#555" stroke-width="1.1" stroke-dasharray="1.6 2.8" stroke-linejoin="miter"/>
<text x="360.3" y="308.4" font-family="'Liberation Serif', serif" font-size="18.8" font-weight="bold" text-anchor="start" fill="#111">(D)</text>
<text x="398.2" y="395" font-family="'Liberation Sans', sans-serif" font-size="9.4" font-weight="bold" text-anchor="middle" fill="#222" textLength="36.3" lengthAdjust="spacingAndGlyphs" transform="rotate(-90 398.2 395)" stroke="#222" stroke-width="0.35">Survival</text>
<text x="510.5" y="522.2" font-family="'Liberation Sans', sans-serif" font-size="9.9" font-weight="bold" text-anchor="start" fill="#222" textLength="78.8" lengthAdjust="spacingAndGlyphs" stroke="#222" stroke-width="0.35">Follow-up (month)</text>
<text x="444.9" y="486.8" font-family="'Liberation Sans', sans-serif" font-size="7.2" font-weight="bold" text-anchor="start" fill="#222" textLength="29.4" lengthAdjust="spacingAndGlyphs" stroke="#222" stroke-width="0.35">p = 0.004</text>
<text x="614.9" y="306.9" font-family="'Liberation Sans', sans-serif" font-size="9.6" font-weight="bold" text-anchor="start" fill="#222" textLength="43.1" lengthAdjust="spacingAndGlyphs" stroke="#222" stroke-width="0.35">All patient</text>
<text x="598.6" y="404.3" font-family="'Liberation Sans', sans-serif" font-size="7.6" font-weight="bold" text-anchor="start" fill="#222" textLength="47.3" lengthAdjust="spacingAndGlyphs" stroke="#222" stroke-width="0.35">BCLC A and B</text>
<text x="565.8" y="443.7" font-family="'Liberation Sans', sans-serif" font-size="7.6" font-weight="bold" text-anchor="start" fill="#222" textLength="48.4" lengthAdjust="spacingAndGlyphs" stroke="#222" stroke-width="0.35">BCLC C and D</text>
<text x="366.6" y="525.0" font-family="'Liberation Sans', sans-serif" font-size="8.2" text-anchor="start" fill="#333" textLength="50.4" lengthAdjust="spacingAndGlyphs" stroke="#333" stroke-width="0.25">Patient at risk</text>
<text x="362.4" y="536.1" font-family="'Liberation Sans', sans-serif" font-size="8.2" text-anchor="start" fill="#333" textLength="48.1" lengthAdjust="spacingAndGlyphs" stroke="#333" stroke-width="0.25">BCLC A and B</text>
<text x="362.4" y="546.6" font-family="'Liberation Sans', sans-serif" font-size="8.2" text-anchor="start" fill="#333" textLength="48.8" lengthAdjust="spacingAndGlyphs" stroke="#333" stroke-width="0.25">BCLC C and D</text>
<text x="420.9" y="536.1" font-family="'Liberation Sans', sans-serif" font-size="8.2" text-anchor="middle" fill="#333" stroke="#333" stroke-width="0.25">44</text>
<text x="462.2" y="536.1" font-family="'Liberation Sans', sans-serif" font-size="8.2" text-anchor="middle" fill="#333" stroke="#333" stroke-width="0.25">21</text>
<text x="504.6" y="536.1" font-family="'Liberation Sans', sans-serif" font-size="8.2" text-anchor="middle" fill="#333" stroke="#333" stroke-width="0.25">10</text>
<text x="547.0" y="536.1" font-family="'Liberation Sans', sans-serif" font-size="8.2" text-anchor="middle" fill="#333" stroke="#333" stroke-width="0.25">7</text>
<text x="589.4" y="536.1" font-family="'Liberation Sans', sans-serif" font-size="8.2" text-anchor="middle" fill="#333" stroke="#333" stroke-width="0.25">4</text>
<text x="631.8" y="536.1" font-family="'Liberation Sans', sans-serif" font-size="8.2" text-anchor="middle" fill="#333" stroke="#333" stroke-width="0.25">1</text>
<text x="420.9" y="546.6" font-family="'Liberation Sans', sans-serif" font-size="8.2" text-anchor="middle" fill="#333" stroke="#333" stroke-width="0.25">47</text>
<text x="462.2" y="546.6" font-family="'Liberation Sans', sans-serif" font-size="8.2" text-anchor="middle" fill="#333" stroke="#333" stroke-width="0.25">14</text>
<text x="504.6" y="546.6" font-family="'Liberation Sans', sans-serif" font-size="8.2" text-anchor="middle" fill="#333" stroke="#333" stroke-width="0.25">8</text>
<text x="547.0" y="546.6" font-family="'Liberation Sans', sans-serif" font-size="8.2" text-anchor="middle" fill="#333" stroke="#333" stroke-width="0.25">6</text>
<text x="589.4" y="546.6" font-family="'Liberation Sans', sans-serif" font-size="8.2" text-anchor="middle" fill="#333" stroke="#333" stroke-width="0.25">2</text>
<text x="631.8" y="546.6" font-family="'Liberation Sans', sans-serif" font-size="8.2" text-anchor="middle" fill="#333" stroke="#333" stroke-width="0.25">0</text>
</g>
<g>
<line x1="60.4" y1="571.3" x2="322.5" y2="571.3" stroke="#888" stroke-width="1.3"/>
<line x1="322.5" y1="571.3" x2="322.5" y2="792.2" stroke="#888" stroke-width="1.3"/>
<line x1="60.4" y1="571.3" x2="60.4" y2="792.2" stroke="#666" stroke-width="1.2"/>
<line x1="56.4" y1="792.2" x2="322.5" y2="792.2" stroke="#555" stroke-width="1.2"/>
<line x1="56.4" y1="792.2" x2="60.4" y2="792.2" stroke="#333" stroke-width="1.0"/>
<text x="56.4" y="795.6" font-family="'Liberation Sans', sans-serif" font-size="7.4" font-weight="bold" text-anchor="end" fill="#222" textLength="8.7" lengthAdjust="spacingAndGlyphs" stroke="#222" stroke-width="0.35">0.0</text>
<line x1="56.4" y1="750.26" x2="60.4" y2="750.26" stroke="#333" stroke-width="1.0"/>
<text x="56.4" y="753.66" font-family="'Liberation Sans', sans-serif" font-size="7.4" font-weight="bold" text-anchor="end" fill="#222" textLength="8.7" lengthAdjust="spacingAndGlyphs" stroke="#222" stroke-width="0.35">0.2</text>
<line x1="56.4" y1="708.32" x2="60.4" y2="708.32" stroke="#333" stroke-width="1.0"/>
<text x="56.4" y="711.72" font-family="'Liberation Sans', sans-serif" font-size="7.4" font-weight="bold" text-anchor="end" fill="#222" textLength="8.7" lengthAdjust="spacingAndGlyphs" stroke="#222" stroke-width="0.35">0.4</text>
<line x1="56.4" y1="666.38" x2="60.4" y2="666.38" stroke="#333" stroke-width="1.0"/>
<text x="56.4" y="669.78" font-family="'Liberation Sans', sans-serif" font-size="7.4" font-weight="bold" text-anchor="end" fill="#222" textLength="8.7" lengthAdjust="spacingAndGlyphs" stroke="#222" stroke-width="0.35">0.6</text>
<line x1="56.4" y1="624.44" x2="60.4" y2="624.44" stroke="#333" stroke-width="1.0"/>
<text x="56.4" y="627.84" font-family="'Liberation Sans', sans-serif" font-size="7.4" font-weight="bold" text-anchor="end" fill="#222" textLength="8.7" lengthAdjust="spacingAndGlyphs" stroke="#222" stroke-width="0.35">0.8</text>
<line x1="56.4" y1="582.5" x2="60.4" y2="582.5" stroke="#333" stroke-width="1.0"/>
<text x="56.4" y="585.9" font-family="'Liberation Sans', sans-serif" font-size="7.4" font-weight="bold" text-anchor="end" fill="#222" textLength="8.7" lengthAdjust="spacingAndGlyphs" stroke="#222" stroke-width="0.35">1.0</text>
<line x1="60.4" y1="792.2" x2="60.4" y2="795.7" stroke="#333" stroke-width="1.0"/>
<text x="60.4" y="803.3" font-family="'Liberation Sans', sans-serif" font-size="7.4" font-weight="bold" text-anchor="middle" fill="#222" stroke="#222" stroke-width="0.35">0</text>
<line x1="107.02" y1="792.2" x2="107.02" y2="795.7" stroke="#333" stroke-width="1.0"/>
<text x="107.02" y="803.3" font-family="'Liberation Sans', sans-serif" font-size="7.4" font-weight="bold" text-anchor="middle" fill="#222" textLength="7.1" lengthAdjust="spacingAndGlyphs" stroke="#222" stroke-width="0.35">24</text>
<line x1="153.64" y1="792.2" x2="153.64" y2="795.7" stroke="#333" stroke-width="1.0"/>
<text x="153.64" y="803.3" font-family="'Liberation Sans', sans-serif" font-size="7.4" font-weight="bold" text-anchor="middle" fill="#222" textLength="7.1" lengthAdjust="spacingAndGlyphs" stroke="#222" stroke-width="0.35">48</text>
<line x1="200.26" y1="792.2" x2="200.26" y2="795.7" stroke="#333" stroke-width="1.0"/>
<text x="200.26" y="803.3" font-family="'Liberation Sans', sans-serif" font-size="7.4" font-weight="bold" text-anchor="middle" fill="#222" textLength="7.1" lengthAdjust="spacingAndGlyphs" stroke="#222" stroke-width="0.35">72</text>
<line x1="246.88" y1="792.2" x2="246.88" y2="795.7" stroke="#333" stroke-width="1.0"/>
<text x="246.88" y="803.3" font-family="'Liberation Sans', sans-serif" font-size="7.4" font-weight="bold" text-anchor="middle" fill="#222" textLength="7.1" lengthAdjust="spacingAndGlyphs" stroke="#222" stroke-width="0.35">96</text>
<line x1="293.5" y1="792.2" x2="293.5" y2="795.7" stroke="#333" stroke-width="1.0"/>
<text x="293.5" y="803.3" font-family="'Liberation Sans', sans-serif" font-size="7.4" font-weight="bold" text-anchor="middle" fill="#222" textLength="10.65" lengthAdjust="spacingAndGlyphs" stroke="#222" stroke-width="0.35">120</text>
<path d="M60.4 582.5 H65.9 V586.8 H66.7 V591.2 H70.5 V601.1 H75.5 V610.5 H79.4 V615.6 H81.6 V624.7 H83.5 V629.9 H104.5 V635.9 H115.5 V641.7 H129.5 V647.6 H140.7 V654.6 H149.4 V662 H191.4 V672.4 H308.1" fill="none" stroke="#555" stroke-width="1.1" stroke-linejoin="miter"/>
<path d="M60.4 582.5 H61.3 V624.4 H80.5 V645.2 H89.3 V687.6 H95.2 V708.4 H119.3 V750.4 H138.4 V792.2" fill="none" stroke="#555" stroke-width="1.1" stroke-dasharray="2.2 2.2" stroke-linejoin="miter"/>
<text x="2.1" y="588.4" font-family="'Liberation Serif', serif" font-size="18.8" font-weight="bold" text-anchor="start" fill="#111">(E)</text>
<text x="39.2" y="681.9" font-family="'Liberation Sans', sans-serif" font-size="9.4" font-weight="bold" text-anchor="middle" fill="#222" textLength="36.1" lengthAdjust="spacingAndGlyphs" transform="rotate(-90 39.2 681.9)" stroke="#222" stroke-width="0.35">Survival</text>
<text x="151.7" y="818.7" font-family="'Liberation Sans', sans-serif" font-size="9.9" font-weight="bold" text-anchor="start" fill="#222" textLength="80.3" lengthAdjust="spacingAndGlyphs" stroke="#222" stroke-width="0.35">Follow-up (month)</text>
<text x="79.1" y="778.9" font-family="'Liberation Sans', sans-serif" font-size="7.2" font-weight="bold" text-anchor="start" fill="#222" textLength="29.6" lengthAdjust="spacingAndGlyphs" stroke="#222" stroke-width="0.35">p = 0.002</text>
<text x="228.8" y="582.2" font-family="'Liberation Sans', sans-serif" font-size="7.4" font-weight="bold" text-anchor="start" fill="#222" textLength="64.3" lengthAdjust="spacingAndGlyphs" stroke="#222" stroke-width="0.35">BCLC A or B group</text>
<text x="264.7" y="664.1" font-family="'Liberation Sans', sans-serif" font-size="8.0" font-weight="bold" text-anchor="start" fill="#222" textLength="9.9" lengthAdjust="spacingAndGlyphs" stroke="#222" stroke-width="0.35">SR</text>
<text x="147" y="769.5" font-family="'Liberation Sans', sans-serif" font-size="8.0" font-weight="bold" text-anchor="start" fill="#222" textLength="26" lengthAdjust="spacingAndGlyphs" stroke="#222" stroke-width="0.35">Non-SR</text>
<text x="0.9" y="818.0" font-family="'Liberation Sans', sans-serif" font-size="8.4" text-anchor="start" fill="#333" textLength="49.9" lengthAdjust="spacingAndGlyphs" stroke="#333" stroke-width="0.25">Patient at risk</text>
<text x="10.9" y="828.9" font-family="'Liberation Sans', sans-serif" font-size="8.4" text-anchor="start" fill="#333" stroke="#333" stroke-width="0.25">SR</text>
<text x="10.9" y="839.4" font-family="'Liberation Sans', sans-serif" font-size="8.4" text-anchor="start" fill="#333" textLength="26.8" lengthAdjust="spacingAndGlyphs" stroke="#333" stroke-width="0.25">Non-SR</text>
<text x="60.4" y="828.9" font-family="'Liberation Sans', sans-serif" font-size="8.4" text-anchor="middle" fill="#333" stroke="#333" stroke-width="0.25">45</text>
<text x="107.02" y="828.9" font-family="'Liberation Sans', sans-serif" font-size="8.4" text-anchor="middle" fill="#333" stroke="#333" stroke-width="0.25">27</text>
<text x="153.64" y="828.9" font-family="'Liberation Sans', sans-serif" font-size="8.4" text-anchor="middle" fill="#333" stroke="#333" stroke-width="0.25">16</text>
<text x="200.26" y="828.9" font-family="'Liberation Sans', sans-serif" font-size="8.4" text-anchor="middle" fill="#333" stroke="#333" stroke-width="0.25">13</text>
<text x="246.88" y="828.9" font-family="'Liberation Sans', sans-serif" font-size="8.4" text-anchor="middle" fill="#333" stroke="#333" stroke-width="0.25">5</text>
<text x="293.5" y="828.9" font-family="'Liberation Sans', sans-serif" font-size="8.4" text-anchor="middle" fill="#333" stroke="#333" stroke-width="0.25">1</text>
<text x="60.4" y="839.4" font-family="'Liberation Sans', sans-serif" font-size="8.4" text-anchor="middle" fill="#333" stroke="#333" stroke-width="0.25">10</text>
<text x="107.02" y="839.4" font-family="'Liberation Sans', sans-serif" font-size="8.4" text-anchor="middle" fill="#333" stroke="#333" stroke-width="0.25">3</text>
<text x="153.64" y="839.4" font-family="'Liberation Sans', sans-serif" font-size="8.4" text-anchor="middle" fill="#333" stroke="#333" stroke-width="0.25">0</text>
</g>
<g>
<line x1="419.8" y1="572.4" x2="681.0" y2="572.4" stroke="#888" stroke-width="1.3"/>
<line x1="681.0" y1="572.4" x2="681.0" y2="774.3" stroke="#888" stroke-width="1.3"/>
<line x1="419.8" y1="572.4" x2="419.8" y2="774.3" stroke="#666" stroke-width="1.2"/>
<line x1="415.8" y1="774.3" x2="681.0" y2="774.3" stroke="#555" stroke-width="1.2"/>
<line x1="415.8" y1="774.3" x2="419.8" y2="774.3" stroke="#333" stroke-width="1.0"/>
<text x="416.1" y="777.8" font-family="'Liberation Sans', sans-serif" font-size="7.4" font-weight="bold" text-anchor="end" fill="#222" textLength="8.3" lengthAdjust="spacingAndGlyphs" stroke="#222" stroke-width="0.35">0.0</text>
<line x1="415.8" y1="735.86" x2="419.8" y2="735.86" stroke="#333" stroke-width="1.0"/>
<text x="416.1" y="739.36" font-family="'Liberation Sans', sans-serif" font-size="7.4" font-weight="bold" text-anchor="end" fill="#222" textLength="8.3" lengthAdjust="spacingAndGlyphs" stroke="#222" stroke-width="0.35">0.2</text>
<line x1="415.8" y1="697.42" x2="419.8" y2="697.42" stroke="#333" stroke-width="1.0"/>
<text x="416.1" y="700.92" font-family="'Liberation Sans', sans-serif" font-size="7.4" font-weight="bold" text-anchor="end" fill="#222" textLength="8.3" lengthAdjust="spacingAndGlyphs" stroke="#222" stroke-width="0.35">0.4</text>
<line x1="415.8" y1="658.98" x2="419.8" y2="658.98" stroke="#333" stroke-width="1.0"/>
<text x="416.1" y="662.48" font-family="'Liberation Sans', sans-serif" font-size="7.4" font-weight="bold" text-anchor="end" fill="#222" textLength="8.3" lengthAdjust="spacingAndGlyphs" stroke="#222" stroke-width="0.35">0.6</text>
<line x1="415.8" y1="620.54" x2="419.8" y2="620.54" stroke="#333" stroke-width="1.0"/>
<text x="416.1" y="624.04" font-family="'Liberation Sans', sans-serif" font-size="7.4" font-weight="bold" text-anchor="end" fill="#222" textLength="8.3" lengthAdjust="spacingAndGlyphs" stroke="#222" stroke-width="0.35">0.8</text>
<line x1="415.8" y1="582.1" x2="419.8" y2="582.1" stroke="#333" stroke-width="1.0"/>
<text x="416.1" y="585.6" font-family="'Liberation Sans', sans-serif" font-size="7.4" font-weight="bold" text-anchor="end" fill="#222" textLength="8.3" lengthAdjust="spacingAndGlyphs" stroke="#222" stroke-width="0.35">1.0</text>
<line x1="419.8" y1="774.3" x2="419.8" y2="777.8" stroke="#333" stroke-width="1.0"/>
<text x="419.8" y="785.5" font-family="'Liberation Sans', sans-serif" font-size="7.4" font-weight="bold" text-anchor="middle" fill="#222" stroke="#222" stroke-width="0.35">0</text>
<line x1="448.13" y1="774.3" x2="448.13" y2="777.8" stroke="#333" stroke-width="1.0"/>
<text x="448.13" y="785.5" font-family="'Liberation Sans', sans-serif" font-size="7.4" font-weight="bold" text-anchor="middle" fill="#222" textLength="7.1" lengthAdjust="spacingAndGlyphs" stroke="#222" stroke-width="0.35">12</text>
<line x1="476.46" y1="774.3" x2="476.46" y2="777.8" stroke="#333" stroke-width="1.0"/>
<text x="476.46" y="785.5" font-family="'Liberation Sans', sans-serif" font-size="7.4" font-weight="bold" text-anchor="middle" fill="#222" textLength="7.1" lengthAdjust="spacingAndGlyphs" stroke="#222" stroke-width="0.35">24</text>
<line x1="504.79" y1="774.3" x2="504.79" y2="777.8" stroke="#333" stroke-width="1.0"/>
<text x="504.79" y="785.5" font-family="'Liberation Sans', sans-serif" font-size="7.4" font-weight="bold" text-anchor="middle" fill="#222" textLength="7.1" lengthAdjust="spacingAndGlyphs" stroke="#222" stroke-width="0.35">36</text>
<line x1="533.12" y1="774.3" x2="533.12" y2="777.8" stroke="#333" stroke-width="1.0"/>
<text x="533.12" y="785.5" font-family="'Liberation Sans', sans-serif" font-size="7.4" font-weight="bold" text-anchor="middle" fill="#222" textLength="7.1" lengthAdjust="spacingAndGlyphs" stroke="#222" stroke-width="0.35">48</text>
<line x1="561.45" y1="774.3" x2="561.45" y2="777.8" stroke="#333" stroke-width="1.0"/>
<text x="561.45" y="785.5" font-family="'Liberation Sans', sans-serif" font-size="7.4" font-weight="bold" text-anchor="middle" fill="#222" textLength="7.1" lengthAdjust="spacingAndGlyphs" stroke="#222" stroke-width="0.35">60</text>
<line x1="589.78" y1="774.3" x2="589.78" y2="777.8" stroke="#333" stroke-width="1.0"/>
<text x="589.78" y="785.5" font-family="'Liberation Sans', sans-serif" font-size="7.4" font-weight="bold" text-anchor="middle" fill="#222" textLength="7.1" lengthAdjust="spacingAndGlyphs" stroke="#222" stroke-width="0.35">72</text>
<line x1="618.11" y1="774.3" x2="618.11" y2="777.8" stroke="#333" stroke-width="1.0"/>
<text x="618.11" y="785.5" font-family="'Liberation Sans', sans-serif" font-size="7.4" font-weight="bold" text-anchor="middle" fill="#222" textLength="7.1" lengthAdjust="spacingAndGlyphs" stroke="#222" stroke-width="0.35">84</text>
<line x1="646.44" y1="774.3" x2="646.44" y2="777.8" stroke="#333" stroke-width="1.0"/>
<text x="646.44" y="785.5" font-family="'Liberation Sans', sans-serif" font-size="7.4" font-weight="bold" text-anchor="middle" fill="#222" textLength="7.1" lengthAdjust="spacingAndGlyphs" stroke="#222" stroke-width="0.35">96</text>
<line x1="674.77" y1="774.3" x2="674.77" y2="777.8" stroke="#333" stroke-width="1.0"/>
<text x="674.77" y="785.5" font-family="'Liberation Sans', sans-serif" font-size="7.4" font-weight="bold" text-anchor="middle" fill="#222" textLength="10.65" lengthAdjust="spacingAndGlyphs" stroke="#222" stroke-width="0.35">108</text>
<path d="M419.8 582.1 H422.3 V597.3 H424.6 V626.8 H427.7 V641.6 H431.3 V656.3 H439.2 V672.9 H469.9 V690.3 H512.5 V718 H661.2" fill="none" stroke="#555" stroke-width="1.1" stroke-linejoin="miter"/>
<path d="M419.8 582.1 L420.5 590 L420.9 640 L423.1 671.5 L424.4 690.8 L425.4 697.8 L427.5 739.9 L429.6 755.6 V757.7 H438.4 V765.8 H463.4" fill="none" stroke="#555" stroke-width="1.1" stroke-dasharray="1.6 2.8" stroke-linejoin="miter"/>
<text x="360.7" y="588.0" font-family="'Liberation Serif', serif" font-size="18.8" font-weight="bold" text-anchor="start" fill="#111">(F)</text>
<text x="398.4" y="673.4" font-family="'Liberation Sans', sans-serif" font-size="9.4" font-weight="bold" text-anchor="middle" fill="#222" textLength="36.2" lengthAdjust="spacingAndGlyphs" transform="rotate(-90 398.4 673.4)" stroke="#222" stroke-width="0.35">Survival</text>
<text x="510.5" y="800.8" font-family="'Liberation Sans', sans-serif" font-size="9.9" font-weight="bold" text-anchor="start" fill="#222" textLength="79.7" lengthAdjust="spacingAndGlyphs" stroke="#222" stroke-width="0.35">Follow-up (month)</text>
<text x="538.6" y="763.4" font-family="'Liberation Sans', sans-serif" font-size="7.2" font-weight="bold" text-anchor="start" fill="#222" textLength="30" lengthAdjust="spacingAndGlyphs" stroke="#222" stroke-width="0.35">p &lt; 0.001</text>
<text x="582.6" y="585.1" font-family="'Liberation Sans', sans-serif" font-size="7.4" font-weight="bold" text-anchor="start" fill="#222" textLength="65.8" lengthAdjust="spacingAndGlyphs" stroke="#222" stroke-width="0.35">BCLC C or D group</text>
<text x="614.8" y="713.0" font-family="'Liberation Sans', sans-serif" font-size="8.0" font-weight="bold" text-anchor="start" fill="#222" textLength="9.9" lengthAdjust="spacingAndGlyphs" stroke="#222" stroke-width="0.35">SR</text>
<text x="455.9" y="761.8" font-family="'Liberation Sans', sans-serif" font-size="8.0" font-weight="bold" text-anchor="start" fill="#222" textLength="25.9" lengthAdjust="spacingAndGlyphs" stroke="#222" stroke-width="0.35">Non-SR</text>
<text x="360.5" y="800.8" font-family="'Liberation Sans', sans-serif" font-size="8.4" text-anchor="start" fill="#333" textLength="49.9" lengthAdjust="spacingAndGlyphs" stroke="#333" stroke-width="0.25">Patient at risk</text>
<text x="370.7" y="811.3" font-family="'Liberation Sans', sans-serif" font-size="8.4" text-anchor="start" fill="#333" stroke="#333" stroke-width="0.25">SR</text>
<text x="370.7" y="822.1" font-family="'Liberation Sans', sans-serif" font-size="8.4" text-anchor="start" fill="#333" textLength="26.6" lengthAdjust="spacingAndGlyphs" stroke="#333" stroke-width="0.25">Non-SR</text>
<text x="420.1" y="811.3" font-family="'Liberation Sans', sans-serif" font-size="8.4" text-anchor="middle" fill="#333" stroke="#333" stroke-width="0.25">13</text>
<text x="448.43" y="811.3" font-family="'Liberation Sans', sans-serif" font-size="8.4" text-anchor="middle" fill="#333" stroke="#333" stroke-width="0.25">6</text>
<text x="476.76" y="811.3" font-family="'Liberation Sans', sans-serif" font-size="8.4" text-anchor="middle" fill="#333" stroke="#333" stroke-width="0.25">5</text>
<text x="505.09" y="811.3" font-family="'Liberation Sans', sans-serif" font-size="8.4" text-anchor="middle" fill="#333" stroke="#333" stroke-width="0.25">3</text>
<text x="533.42" y="811.3" font-family="'Liberation Sans', sans-serif" font-size="8.4" text-anchor="middle" fill="#333" stroke="#333" stroke-width="0.25">2</text>
<text x="561.75" y="811.3" font-family="'Liberation Sans', sans-serif" font-size="8.4" text-anchor="middle" fill="#333" stroke="#333" stroke-width="0.25">2</text>
<text x="590.08" y="811.3" font-family="'Liberation Sans', sans-serif" font-size="8.4" text-anchor="middle" fill="#333" stroke="#333" stroke-width="0.25">2</text>
<text x="618.41" y="811.3" font-family="'Liberation Sans', sans-serif" font-size="8.4" text-anchor="middle" fill="#333" stroke="#333" stroke-width="0.25">2</text>
<text x="646.74" y="811.3" font-family="'Liberation Sans', sans-serif" font-size="8.4" text-anchor="middle" fill="#333" stroke="#333" stroke-width="0.25">1</text>
<text x="675.07" y="811.3" font-family="'Liberation Sans', sans-serif" font-size="8.4" text-anchor="middle" fill="#333" stroke="#333" stroke-width="0.25">0</text>
<text x="420.1" y="822.1" font-family="'Liberation Sans', sans-serif" font-size="8.4" text-anchor="middle" fill="#333" stroke="#333" stroke-width="0.25">23</text>
<text x="448.43" y="822.1" font-family="'Liberation Sans', sans-serif" font-size="8.4" text-anchor="middle" fill="#333" stroke="#333" stroke-width="0.25">1</text>
<text x="476.76" y="822.1" font-family="'Liberation Sans', sans-serif" font-size="8.4" text-anchor="middle" fill="#333" stroke="#333" stroke-width="0.25">0</text>
</g>
</svg>
</body></html>
